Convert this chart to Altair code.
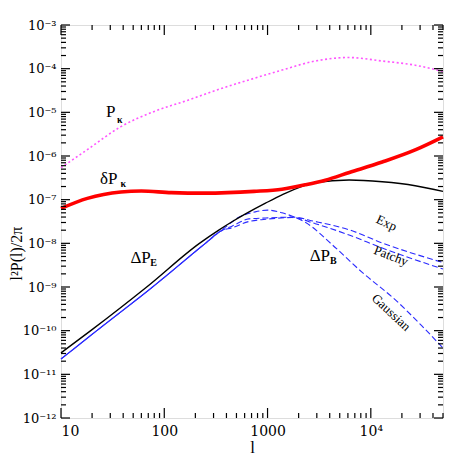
import altair as alt
import pandas as pd

# ---------------- data ----------------
# P_kappa (magenta dotted)
l_pk = [10, 18, 38, 80, 170, 355, 740, 1380, 2920, 6120, 12800, 26900, 50000]
pk = [5.4e-7, 1.4e-6, 4.7e-6, 1.05e-5, 1.9e-5, 3.5e-5, 6.0e-5, 9.3e-5, 1.5e-4, 1.8e-4, 1.5e-4, 1.2e-4, 8.6e-5]

# delta P_kappa (red thick)
l_dpk = [10, 18, 38, 60, 117, 245, 740, 1380, 2340, 3630, 6200, 12900, 26900, 50000]
dpk = [6.3e-8, 1.07e-7, 1.5e-7, 1.58e-7, 1.45e-7, 1.41e-7, 1.55e-7, 1.74e-7, 2.2e-7, 2.8e-7, 4.2e-7, 7.3e-7, 1.38e-6, 2.75e-6]

# Delta P_E (black)
l_e = [10, 19.4, 67.6, 219, 340, 457, 955, 1380, 2920, 6170, 12900, 26900, 50000]
pe = [3.1e-11, 1e-10, 1e-9, 1e-8, 2.04e-8, 3.16e-8, 8.3e-8, 1.29e-7, 2.45e-7, 2.82e-7, 2.57e-7, 2.09e-7, 1.55e-7]

# Delta P_B (blue dashed), three models
l_gauss = [10, 22.2, 77, 250, 350, 540, 760, 1000, 1380, 1740, 2340, 4270, 8200, 17400, 30900, 50000]
b_gauss = [2.24e-11, 1e-10, 1e-9, 1e-8, 1.9e-8, 4.07e-8, 5.25e-8, 5.75e-8, 5.0e-8, 4.17e-8, 3.0e-8, 9.1e-9, 2.19e-9, 5.0e-10, 1.32e-10, 4.0e-11]

l_exp = [10, 22.2, 77, 250, 350, 457, 660, 955, 1740, 2900, 6170, 12900, 50000]
b_exp = [2.24e-11, 1e-10, 1e-9, 1e-8, 1.9e-8, 2.51e-8, 3.63e-8, 3.8e-8, 3.98e-8, 3.16e-8, 2.04e-8, 1.02e-8, 3.63e-9]

l_patchy = [10, 22.2, 77, 250, 350, 457, 660, 955, 1740, 2900, 6170, 12900, 50000]
b_patchy = [2.24e-11, 1e-10, 1e-9, 1e-8, 1.9e-8, 2.29e-8, 3.16e-8, 3.55e-8, 3.89e-8, 2.82e-8, 1.55e-8, 7.8e-9, 2.57e-9]

# axis ticks
x_major = [10, 100, 1000, 10000]
x_minor = [k * 10 ** e for e in range(1, 5) for k in range(2, 10) if k * 10 ** e <= 50000]
y_exps = list(range(-12, -2))
y_major = [10.0 ** e for e in y_exps]
y_minor = [k * 10.0 ** e for e in range(-12, -3) for k in range(2, 10)]
y_tick_labels = ["10⁻¹²", "10⁻¹¹", "10⁻¹⁰", "10⁻⁹", "10⁻⁸", "10⁻⁷", "10⁻⁶", "10⁻⁵", "10⁻⁴", "10⁻³"]

# text labels
main_labels = pd.DataFrame({
    "l": [30.3, 29, 59, 3210],
    "v": [1.02e-5, 3.0e-7, 4.7e-9, 5.1e-9],
    "txt": ["P", "δP", "ΔP", "ΔP"],
})
sub_labels = pd.DataFrame({
    "l": [37, 40, 79, 4330],
    "v": [6.8e-6, 2.3e-7, 3.5e-9, 3.9e-9],
    "txt": ["κ", "κ", "E", "B"],
})

W, H = 382, 393
FONT = "Liberation Serif"
TICKFONT = "DejaVu Serif"

xscale = alt.Scale(type="log", domain=[10, 50000], nice=False)
yscale = alt.Scale(type="log", domain=[1e-12, 1e-3], nice=False)

xaxis = alt.Axis(
    values=x_major,
    labelExpr="datum.value >= 10000 ? '10⁴' : format(datum.value, 'd')",
    ticks=False, domain=False, grid=False,
    labelFont=TICKFONT, labelFontSize=14, labelPadding=6, labelColor="black",
    title="l", titleFont=FONT, titleFontSize=17, titleFontWeight="normal",
    titlePadding=1, titleColor="black",
)
ylabel_arr = "[" + ",".join("'" + s + "'" for s in y_tick_labels) + "]"
yaxis = alt.Axis(
    values=y_major,
    labelExpr=ylabel_arr + "[round(log(datum.value)/LN10) + 12]",
    ticks=False, domain=False, grid=False,
    labelFont=TICKFONT, labelFontSize=13, labelPadding=5, labelColor="black",
    title="l²P(l)/2π", titleFont=FONT, titleFontSize=16, titleFontWeight="normal",
    titleColor="black", titleX=-53, titleY=228, titleBaseline="top",
)


def X(f):
    return alt.X(f + ":Q", scale=xscale, axis=xaxis)


def Y(f):
    return alt.Y(f + ":Q", scale=yscale, axis=yaxis)


def series(lv, vv):
    return pd.DataFrame({"l": lv, "v": vv})


pk_line = alt.Chart(series(l_pk, pk)).mark_line(
    color="#ff55ff", strokeWidth=1.6, strokeDash=[2, 2.5], interpolate="monotone"
).encode(x=X("l"), y=Y("v"))

blue = "#2a2aff"
blue_layers = []
for (lv, vv), off in zip([(l_gauss, b_gauss), (l_exp, b_exp), (l_patchy, b_patchy)], [0, 3, 6]):
    blue_layers.append(
        alt.Chart(series(lv, vv)).mark_line(
            color=blue, strokeWidth=1.1, strokeDash=[6, 3], strokeDashOffset=off, interpolate="monotone"
        ).encode(x=X("l"), y=Y("v"))
    )

e_line = alt.Chart(series(l_e, pe)).mark_line(
    color="black", strokeWidth=1.4, interpolate="monotone"
).encode(x=X("l"), y=Y("v"))

dpk_line = alt.Chart(series(l_dpk, dpk)).mark_line(
    color="#ff0000", strokeWidth=3.6, interpolate="monotone"
).encode(x=X("l"), y=Y("v"))


# tick marks (inward, all four sides)
def xticks(vals, length, top):
    df = pd.DataFrame({"l": vals})
    y0, y1 = (0, length) if top else (H, H - length)
    return alt.Chart(df).mark_rule(color="black", strokeWidth=1.2).encode(
        x=X("l"), y=alt.value(y0), y2=alt.value(y1))


def yticks(vals, length, right):
    df = pd.DataFrame({"v": vals})
    x0, x1 = (W, W - length) if right else (0, length)
    return alt.Chart(df).mark_rule(color="black", strokeWidth=1.2).encode(
        y=Y("v"), x=alt.value(x0), x2=alt.value(x1))


tick_layers = [
    xticks(x_major, 10, False), xticks(x_major, 10, True),
    xticks(x_minor, 5, False), xticks(x_minor, 5, True),
    yticks(y_major, 9, False), yticks(y_major, 9, True),
    yticks(y_minor, 5, False), yticks(y_minor, 5, True),
]

main_text = alt.Chart(main_labels).mark_text(
    font=FONT, fontSize=17, color="black", align="center", baseline="middle"
).encode(x=X("l"), y=Y("v"), text="txt:N")

sub_text = alt.Chart(sub_labels).mark_text(
    font=FONT, fontSize=10, fontWeight="bold", color="black", align="center", baseline="middle"
).encode(x=X("l"), y=Y("v"), text="txt:N")


def rot_label(l, v, txt, ang):
    df = pd.DataFrame({"l": [l], "v": [v], "txt": [txt]})
    return alt.Chart(df).mark_text(
        font=FONT, fontSize=13, color="black", align="center", baseline="middle", angle=ang
    ).encode(x=X("l"), y=Y("v"), text="txt:N")


rot_layers = [
    rot_label(14200, 2.9e-8, "Exp", 25),
    rot_label(15700, 5.1e-9, "Patchy", 21),
    rot_label(15700, 2.6e-10, "Gaussian", 43),
]

chart = alt.layer(
    pk_line, *blue_layers, e_line, dpk_line, *tick_layers, main_text, sub_text, *rot_layers
).properties(
    width=W, height=H,
    autosize=alt.AutoSizeParams(type="none"),
    padding={"left": 53, "top": 17, "right": 16, "bottom": 40},
).configure_view(stroke="black", strokeWidth=1.6).configure(background="white")

chart.save("out.html", embed_options={"renderer": "svg", "actions": False})
